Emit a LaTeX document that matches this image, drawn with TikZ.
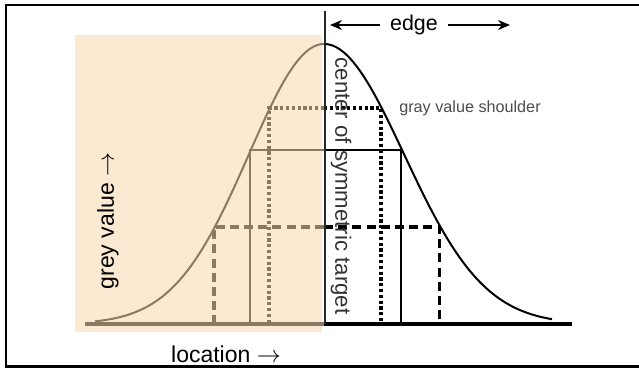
\documentclass[tikz,border=0pt]{standalone}
\usepackage{fontspec}
\setmainfont{Liberation Sans}
\usetikzlibrary{arrows.meta}
\definecolor{peach}{RGB}{252,233,210}
\definecolor{taupe}{RGB}{138,122,98}

\begin{document}
\begin{tikzpicture}[
  x=0.5pt, y=-0.5pt,
  lbl/.style={font=\fontsize{10.7}{12}\selectfont, inner sep=0pt},
  axislbl/.style={lbl, font=\fontsize{11.5}{13}\selectfont},
  curveln/.style={line width=1pt},
  dotln/.style={line width=1.8pt, dash pattern=on 1.6pt off 1.3pt},
  dashln/.style={line width=1.8pt, dash pattern=on 4.5pt off 2.6pt},
  solidln/.style={line width=0.8pt},
  arr/.style={-{Stealth[length=6pt,width=5pt]}, line width=0.75pt}
]
\useasboundingbox (0,0) rectangle (639,368);
\fill[peach] (75,35) rectangle (322,332);
\draw[line width=1.25pt] (641,5) -| (6,366.5) -- (641,366.5);

% shoulder levels: y / left x / right x / style
\foreach \yy/\xl/\xr/\sty in {108/268.9/380.7/dotln,
                              150/249.8/401.1/solidln,
                              227/213.7/439.5/dashln} {
  \draw[\sty, taupe] (324,\yy) -- (\xl,\yy) -- (\xl,324);
  \draw[\sty] (324,\yy) -- (\xr,\yy) -- (\xr,324);
}

% profile
\draw[curveln, taupe] plot[domain=95:324, samples=70]
  (\x, {324-280*exp(-0.5*((\x-324)/75)^2)});
\draw[curveln] plot[domain=324:552, samples=70]
  (\x, {324-280*exp(-0.5*((\x-324)/80)^2)});
\draw[taupe, line width=2pt] (85,324) -- (324,324);
\draw[line width=2pt] (324,324) -- (572,324);
\draw[line width=0.9pt, black!85] (325,11) -- (325,324);

\node[lbl, inner xsep=5pt] (edge) at (414,25) {edge};
\coordinate (edgeL) at (330,25);
\coordinate (edgeR) at (510,25);
\draw[arr] (edge) -- (edgeL);
\draw[arr] (edge) -- (edgeR);

\node[lbl, font=\fontsize{8.1}{10}\selectfont, text=black!70] (shoulder) at (470,108) {gray value shoulder};
\node[lbl, rotate=-90, text=black!80, font=\fontsize{11.1}{12}\selectfont] (center) at (341,186) {center of symmetric target};
\node[axislbl, rotate=90] (grey) at (108,221) {grey value $\rightarrow$};
\node[axislbl] (loc) at (226,354) {location $\rightarrow$};
\end{tikzpicture}
\end{document}
